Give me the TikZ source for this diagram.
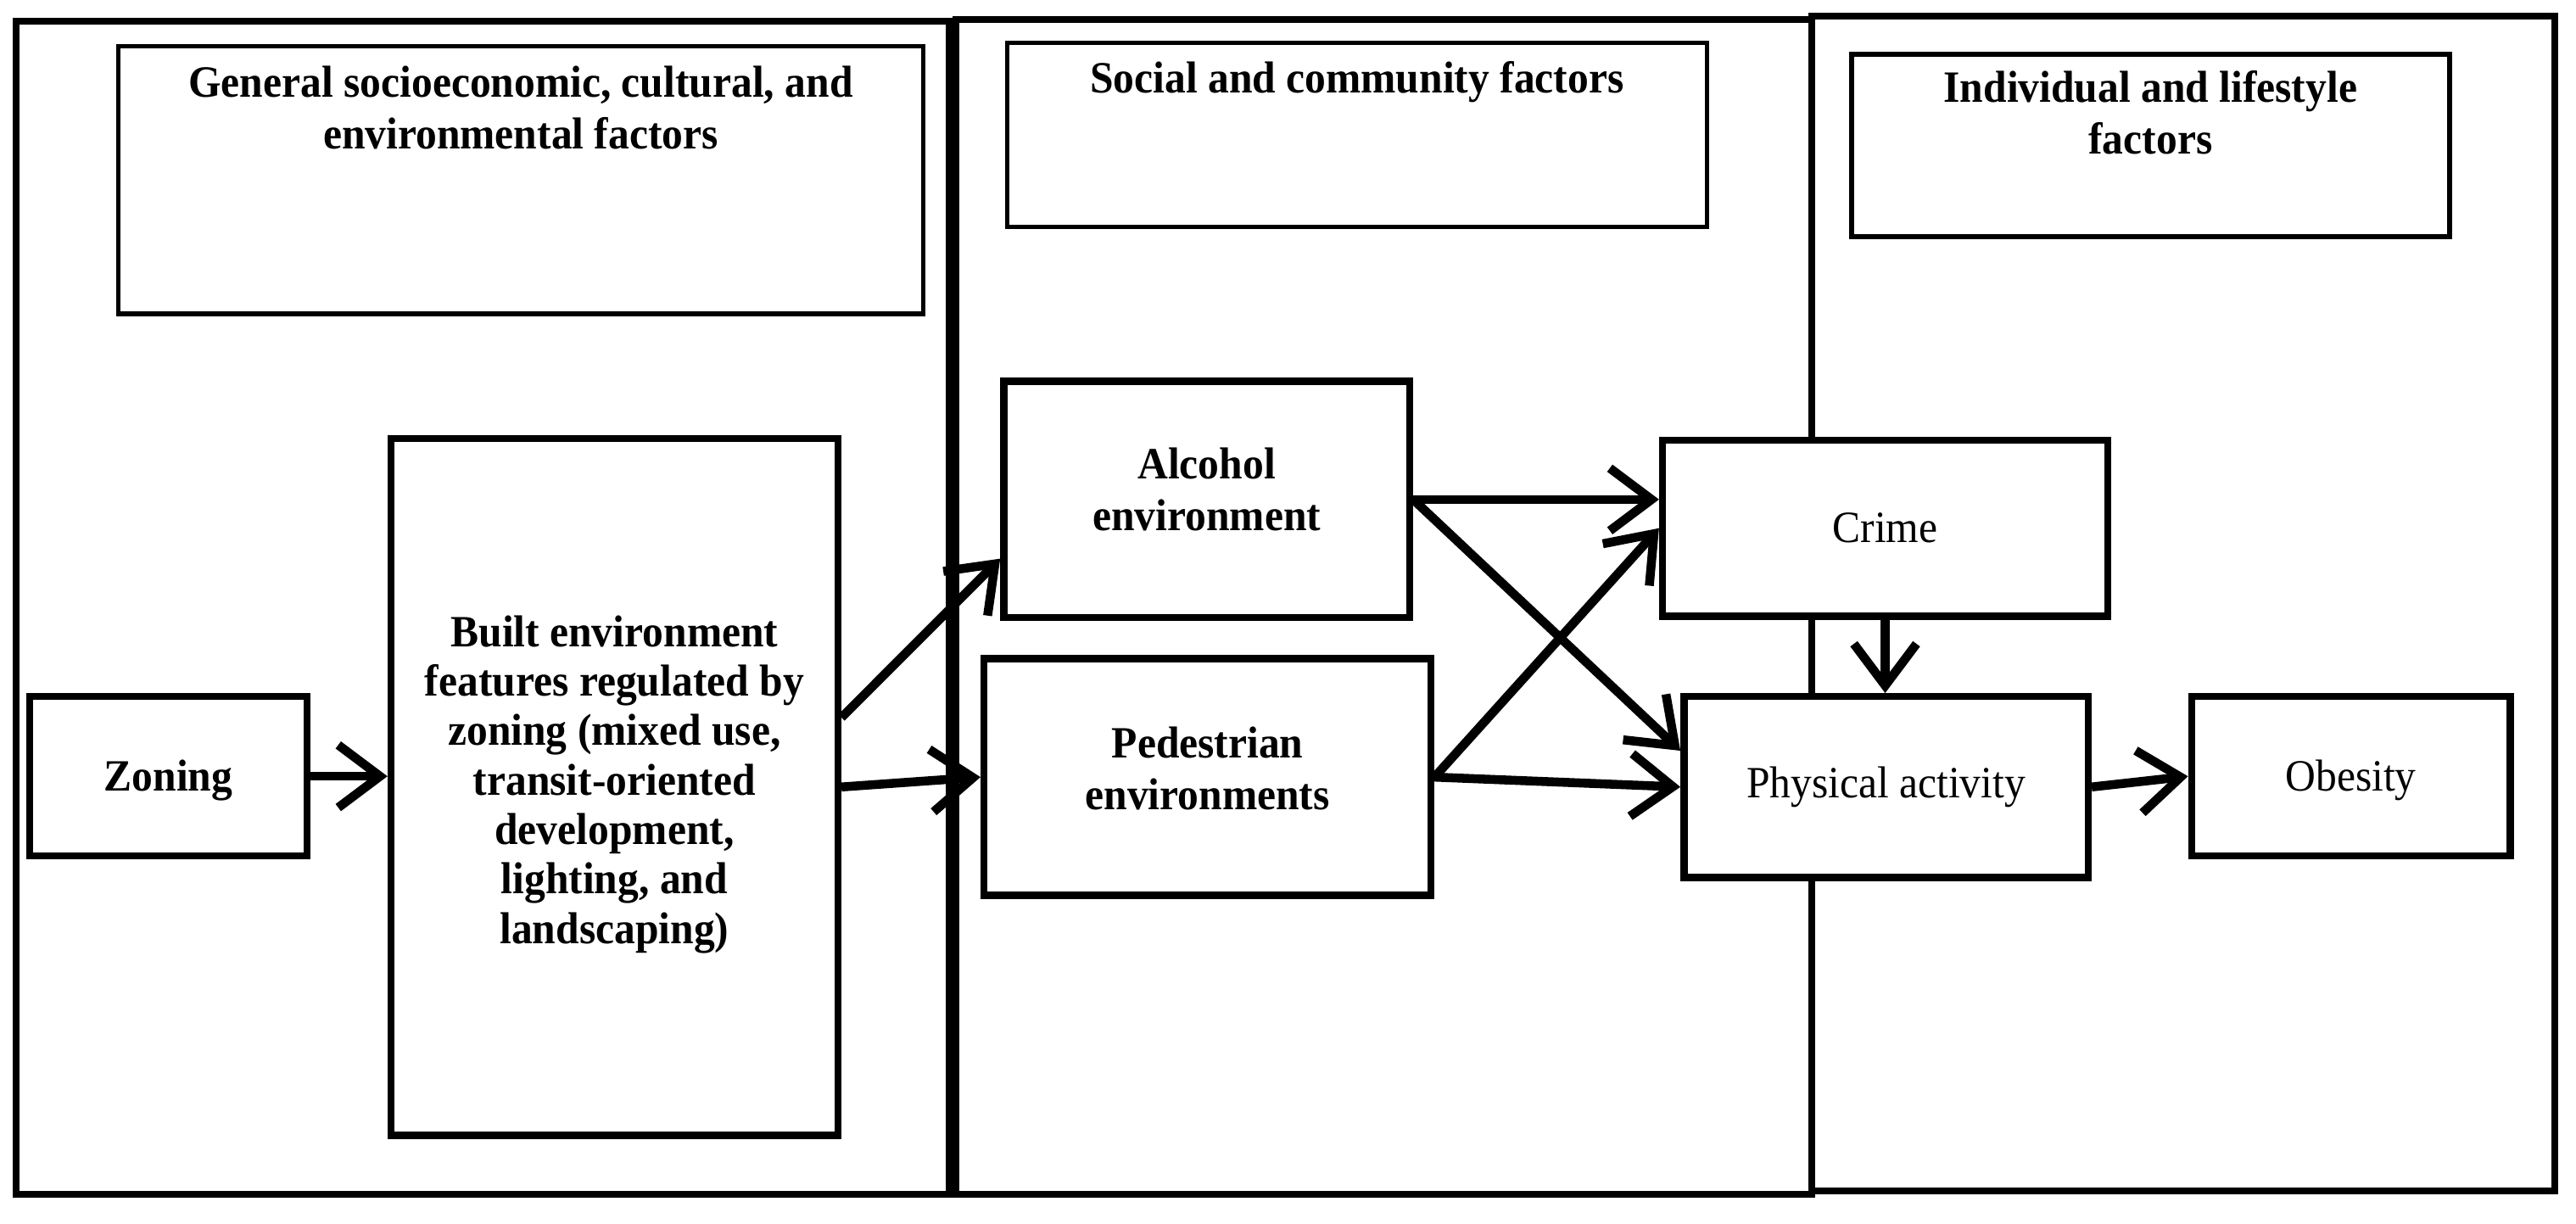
\documentclass[tikz,border=0pt]{standalone}
\usepackage{fontspec}
\setmainfont[FakeStretch=0.94]{Liberation Serif}
\usetikzlibrary{arrows.meta}

\newcommand{\px}{0.1937mm}
\newcommand{\figfont}{\fontsize{15}{17.5}\selectfont}

\begin{document}
\begin{tikzpicture}[x=0.1937mm, y=-0.1937mm, font=\figfont,
		panel/.style={line width=2.3pt},
		titlebox/.style={draw, line width=1.5pt, fill=white},
		headline/.style={align=center, font=\figfont\bfseries},
		factor/.style={draw, line width=2.4pt, fill=white, align=center},
		bffactor/.style={factor, font=\figfont\bfseries},
		link/.style={line width=3pt, -{Straight Barb[length=14pt, width=21pt]}}]
			\useasboundingbox (0,0) rectangle (1568,745);
			
			% the three levels
			\draw[panel] (10,13) rectangle (578,727);
			\draw[panel] (582,12) rectangle (1103,727);
			\draw[panel] (1103,10) rectangle (1555,725);
			
			\node[titlebox, minimum width=490*\px, minimum height=163*\px] (gen) at (317,109.5) {};
			\node[headline] (gentitle) at (317,65.5) {General socioeconomic, cultural, and\\environmental factors};
			\node[titlebox, minimum width=426*\px, minimum height=112*\px] (soc) at (826,82) {};
			\node[headline] (soctitle) at (826,50) {Social and community factors};
			\node[titlebox, minimum width=364*\px, minimum height=111*\px] (ind) at (1309,88.5) {};
			\node[headline] (indtitle) at (1309,68.5) {Individual and lifestyle\\factors};
			
			% factors
			\node[bffactor, minimum width=169*\px, minimum height=97*\px, text height=13pt] (zon) at (102.5,472.5) {Zoning};
			\node[bffactor, font=\fontsize{15}{16.6}\selectfont\bfseries, minimum width=272*\px, minimum height=424*\px, text depth=5pt] (built) at (374,479)
				{Built environment\\features regulated by\\zoning (mixed use,\\transit-oriented\\development,\\lighting, and\\landscaping)};
			\node[bffactor, minimum width=247*\px, minimum height=144*\px, text depth=7pt] (alc) at (734.5,304) {Alcohol\\environment};
			\node[bffactor, minimum width=272*\px, minimum height=144*\px, text depth=6pt] (ped) at (735,473) {Pedestrian\\environments};
			\node[factor, minimum width=271*\px, minimum height=107*\px] (crime) at (1147.5,321.5) {Crime};
			\node[factor, minimum width=246*\px, minimum height=110*\px] (pa) at (1148,479) {Physical activity};
			\node[factor, minimum width=194*\px, minimum height=97*\px, text height=13pt] (obe) at (1431,472.5) {Obesity};
			
			% paths
			\draw[link] (zon.east) -- (zon.east -| built.west);
			\draw[link] (built.17) -- (alc.196);
			\draw[link] (built.east) -- (ped.west);
			\draw[link] (alc.east) -- (alc.east -| crime.west);
			\draw[link] (alc.east) -- (pa.170);
			\draw[link] (ped.east) -- (crime.west);
			\draw[link] (ped.east) -- (pa.west);
			\draw[link] (crime.south) -- (crime.south |- pa.north);
			\draw[link] (pa.east) -- (obe.west);
			
		\end{tikzpicture}
\end{document}
